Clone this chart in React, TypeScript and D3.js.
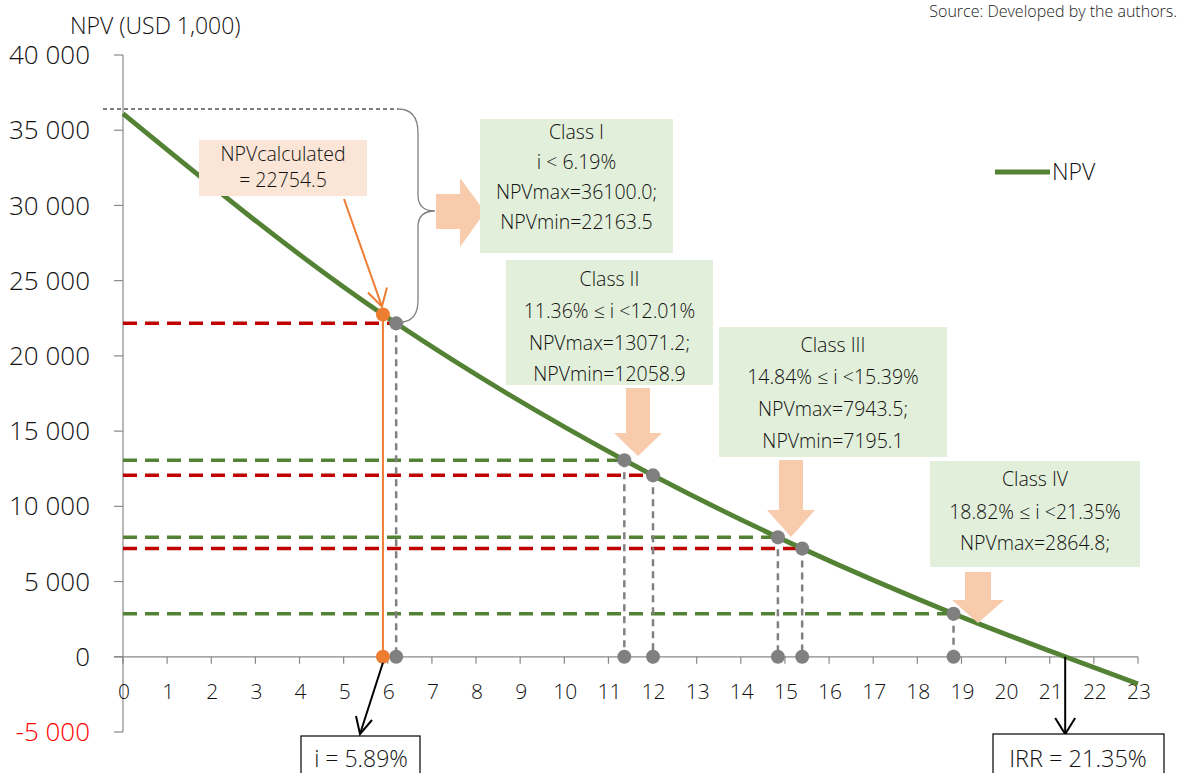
import { curveMonotoneX, line as d3Line, scaleLinear } from "d3";

// NPV curve (discount rate %, NPV in USD 1,000)
const curveRate = [0, 5.89, 6.19, 11.36, 12.01, 14.84, 15.39, 18.82, 21.35, 23];
const curveNpv = [36100, 22754.5, 22163.5, 13071.2, 12058.9, 7943.5, 7195.1, 2864.8, 0, -1800];

// class boundary points (grey markers)
const boundRate = [6.19, 11.36, 12.01, 14.84, 15.39, 18.82];
const boundNpv = [22163.5, 13071.2, 12058.9, 7943.5, 7195.1, 2864.8];
const boundKind = ["min", "max", "min", "max", "min", "max"];

// calculated project
const calcRate = 5.89;
const calcNpv = 22754.5;
const irr = 21.35;

const yTicks = [-5000, 0, 5000, 10000, 15000, 20000, 25000, 30000, 35000, 40000];
const xTicks = Array.from({ length: 24 }, (_, i) => i);

const classTitles = ["Class I", "Class II", "Class III", "Class IV"];
const classLines = [
  ["Class I", "i < 6.19%", "NPVmax=36100.0;", "NPVmin=22163.5"],
  ["Class II", "11.36% ≤ i <12.01%", "NPVmax=13071.2;", "NPVmin=12058.9"],
  ["Class III", "14.84% ≤ i <15.39%", "NPVmax=7943.5;", "NPVmin=7195.1"],
  ["Class IV", "18.82% ≤ i <21.35%", "NPVmax=2864.8;"],
];

const W = 1180;
const H = 773;
const FONT = "'Open Sans', Lato, sans-serif";
const GREEN = "#548235";
const RED = "#C00000";
const GREY = "#808080";
const ORANGE = "#ED7D31";
const PEACH = "#F8CBAD";
const BOX_GREEN = "#E2EFDA";
const BOX_PEACH = "#FBE5D6";

export default function App() {
  const x = scaleLinear().domain([0, 23]).range([123, 1138]);
  const y = scaleLinear().domain([-5000, 40000]).range([732, 55]);

  const data = curveRate.map((r, i) => ({ r, v: curveNpv[i] }));
  const path =
    d3Line<(typeof data)[number]>()
      .x((d) => x(d.r))
      .y((d) => y(d.v))
      .curve(curveMonotoneX)(data) ?? "";

  const y0 = y(0);

  // class boxes
  const boxes = [
    { x: 480, y: 119, w: 193, h: 134, lineY: [132, 162, 192, 222] },
    { x: 506, y: 260, w: 207, h: 125, lineY: [279, 311, 343, 374] },
    { x: 719, y: 327, w: 228, h: 130, lineY: [345, 377, 409, 441] },
    { x: 930, y: 461, w: 210, h: 106, lineY: [479, 512, 543] },
  ];

  // down arrows: shaft x-center, top, head top, tip y, shaft half width, head half width
  const downArrows = [
    { cx: 638, top: 388, head: 433, tip: 456, sw: 12, hw: 24 },
    { cx: 791, top: 460, head: 510, tip: 537, sw: 12, hw: 24 },
    { cx: 978, top: 572, head: 600, tip: 623, sw: 13, hw: 26 },
  ];

  return (
    <svg
      width={W}
      height={H}
      viewBox={`0 0 ${W} ${H}`}
      style={{ position: "absolute", left: 0, top: 0, background: "#fff" }}
      fontFamily={FONT}
      fontWeight={300}
    >
      {/* source */}
      <text x={1177} y={17} textAnchor="end" fontSize={16} fill="#222">
        Source: Developed by the authors.
      </text>

      {/* y title */}
      <text x={70} y={34} fontSize={23} fill="#111">
        NPV (USD 1,000)
      </text>

      {/* y axis */}
      <line x1={x(0)} x2={x(0)} y1={y(40000)} y2={y(-5000)} stroke="#888" strokeWidth={1.2} />
      {yTicks.map((t) => (
        <g key={t}>
          <line x1={114} x2={x(0)} y1={y(t)} y2={y(t)} stroke="#888" strokeWidth={1.2} />
          <text
            x={90}
            y={y(t)}
            dy="0.35em"
            textAnchor="end"
            fontSize={26}
            fill={t < 0 ? "#FF0000" : "#111"}
          >
            {t.toLocaleString("en-US").replace(",", " ")}
          </text>
        </g>
      ))}

      {/* x axis */}
      <line x1={114} x2={x(23)} y1={y0} y2={y0} stroke="#888" strokeWidth={1.2} />
      {xTicks.map((t) => (
        <g key={t}>
          <line x1={x(t)} x2={x(t)} y1={y0} y2={y0 + 7} stroke="#888" strokeWidth={1.2} />
          <text x={x(t) + 1} y={692} dy="0.35em" textAnchor="middle" fontSize={21} fill="#111">
            {t}
          </text>
        </g>
      ))}

      {/* NPVmax level for class I + brace */}
      <line x1={103} x2={398} y1={109} y2={109} stroke="#000" strokeWidth={1} strokeDasharray="4 3" />
      <path
        d="M398,109 Q418,109 418,133 L418,195 Q418,211 435,211 Q418,211 418,227 L418,300 Q418,320 403,322"
        fill="none"
        stroke={GREY}
        strokeWidth={1.3}
      />

      {/* horizontal dashed level lines */}
      {boundRate.map((r, i) => (
        <line
          key={`h${i}`}
          x1={x(0)}
          x2={x(r)}
          y1={y(boundNpv[i])}
          y2={y(boundNpv[i])}
          stroke={boundKind[i] === "min" ? RED : GREEN}
          strokeWidth={3.5}
          strokeDasharray="14 8"
        />
      ))}

      {/* vertical grey dashed drops */}
      {boundRate.map((r, i) => (
        <line
          key={`v${i}`}
          x1={x(r)}
          x2={x(r)}
          y1={y(boundNpv[i])}
          y2={y0}
          stroke={GREY}
          strokeWidth={2.5}
          strokeDasharray="7 5"
        />
      ))}

      {/* NPV curve */}
      <path d={path} fill="none" stroke={GREEN} strokeWidth={4.8} />

      {/* block arrows */}
      <polygon points="436,194 460,194 460,178 485,212 460,247 460,229 436,229" fill={PEACH} />
      {downArrows.map((a, i) => (
        <polygon
          key={`da${i}`}
          points={`${a.cx - a.sw},${a.top} ${a.cx + a.sw},${a.top} ${a.cx + a.sw},${a.head} ${a.cx + a.hw},${a.head} ${a.cx},${a.tip} ${a.cx - a.hw},${a.head} ${a.cx - a.sw},${a.head}`}
          fill={PEACH}
        />
      ))}

      {/* grey markers */}
      {boundRate.map((r, i) => (
        <g key={`m${i}`} fill={GREY}>
          <circle cx={x(r)} cy={y(boundNpv[i])} r={7} />
          <circle cx={x(r)} cy={y0} r={7} />
        </g>
      ))}

      {/* calculated project */}
      <line x1={x(calcRate)} x2={x(calcRate)} y1={y(calcNpv)} y2={y0} stroke={ORANGE} strokeWidth={2} />
      <circle cx={x(calcRate)} cy={y(calcNpv)} r={7} fill={ORANGE} />
      <circle cx={x(calcRate)} cy={y0} r={7} fill={ORANGE} />

      {/* NPVcalculated callout */}
      <rect x={199} y={140} width={168} height={56} fill={BOX_PEACH} />
      <text x={283} y={161} textAnchor="middle" fontSize={19.5} fill="#111">
        NPVcalculated
      </text>
      <text x={283} y={187} textAnchor="middle" fontSize={19.5} fill="#111">
        = 22754.5
      </text>
      <line x1={344} y1={199} x2={x(calcRate) - 1} y2={y(calcNpv) - 8} stroke={ORANGE} strokeWidth={2} />
      <path
        d={`M${x(calcRate) - 15},${y(calcNpv) - 22} L${x(calcRate) - 1},${y(calcNpv) - 8} L${x(calcRate) + 4},${y(calcNpv) - 27}`}
        fill="none"
        stroke={ORANGE}
        strokeWidth={2}
      />

      {/* class boxes */}
      {boxes.map((b, i) => (
        <g key={classTitles[i]}>
          <rect x={b.x} y={b.y} width={b.w} height={b.h} fill={BOX_GREEN} />
          {classLines[i].map((t, j) => (
            <text
              key={j}
              x={b.x + b.w / 2}
              y={b.lineY[j]}
              dy="0.35em"
              textAnchor="middle"
              fontSize={19.5}
              fill="#111"
            >
              {t}
            </text>
          ))}
        </g>
      ))}

      {/* legend */}
      <line x1={995} x2={1050} y1={172} y2={172} stroke={GREEN} strokeWidth={4.8} />
      <text x={1052} y={172} dy="0.35em" fontSize={23} fill="#111">
        NPV
      </text>

      {/* bottom annotations */}
      <line x1={x(calcRate)} y1={y0 + 6} x2={360} y2={734} stroke="#000" strokeWidth={2} />
      <path d="M356,716 L360,734 L372,720" fill="none" stroke="#000" strokeWidth={2} />
      <rect x={301} y={736} width={119} height={50} fill="#fff" stroke="#000" strokeWidth={1.2} />
      <text x={361} y={767} textAnchor="middle" fontSize={23} fill="#111">
        i = 5.89%
      </text>

      <line x1={x(irr)} y1={y0} x2={x(irr)} y2={734} stroke="#000" strokeWidth={2} />
      <path
        d={`M${x(irr) - 10},${718} L${x(irr)},${734} L${x(irr) + 10},${718}`}
        fill="none"
        stroke="#000"
        strokeWidth={2}
      />
      <rect x={993} y={734} width={171} height={50} fill="#fff" stroke="#000" strokeWidth={1.2} />
      <text x={1078} y={767} textAnchor="middle" fontSize={23.5} fill="#111">
        IRR = 21.35%
      </text>
    </svg>
  );
}
